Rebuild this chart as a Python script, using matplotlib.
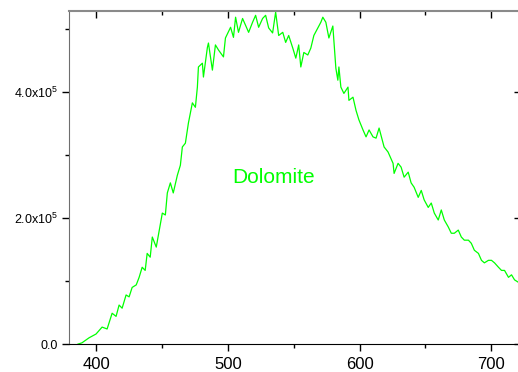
import numpy as np
import matplotlib
matplotlib.use("Agg")
import matplotlib.pyplot as plt
from matplotlib.ticker import MultipleLocator, FixedLocator

plt.rcParams['font.family'] = ['Liberation Sans', 'DejaVu Sans']
plt.rcParams['mathtext.fontset'] = 'custom'
plt.rcParams['mathtext.rm'] = 'Liberation Sans'
plt.rcParams['mathtext.it'] = 'Liberation Sans'

# spectrum (wavelength nm, intensity in 1e5)
wavelength = [386.3, 389.3, 394.7, 400.0, 404.6, 408.4, 412.2, 415.2, 417.5, 419.8,
              422.8, 425.1, 427.4, 430.5, 432.7, 435.0, 437.3, 438.8, 441.1, 442.7,
              445.7, 448.0, 450.3, 452.6, 454.1, 456.4, 458.6, 461.7, 464.0, 465.5,
              467.8, 470.1, 473.1, 475.4, 476.9, 477.7, 480.7, 481.5, 484.5, 485.3,
              488.3, 490.6, 492.9, 496.7, 498.2, 502.1, 504.3, 505.9, 508.1, 511.2,
              513.5, 515.8, 518.8, 521.1, 523.4, 526.4, 528.7, 531.0, 534.0, 536.3,
              538.6, 541.7, 543.9, 546.2, 549.3, 551.6, 553.8, 555.4, 557.7, 560.7,
              563.0, 565.3, 568.3, 570.6, 572.1, 574.4, 576.7, 579.7, 582.0, 583.5,
              584.3, 585.8, 588.1, 591.2, 591.9, 595.0, 597.3, 599.5, 602.6, 604.9,
              607.2, 610.2, 612.5, 614.8, 617.8, 618.6, 621.6, 625.4, 626.2, 629.2,
              631.5, 633.8, 636.9, 639.1, 641.4, 644.5, 646.8, 649.0, 652.1, 654.4,
              656.7, 659.7, 662.0, 664.3, 667.3, 669.6, 671.9, 674.9, 677.2, 679.5,
              682.6, 684.8, 687.1, 690.2, 692.5, 694.7, 697.8, 700.1, 702.4, 705.4,
              707.7, 710.0, 713.0, 715.3, 717.6, 720.6]
intensity = [0.00, 0.02, 0.10, 0.16, 0.27, 0.24, 0.49, 0.44, 0.62, 0.57,
             0.78, 0.75, 0.90, 0.94, 1.06, 1.22, 1.17, 1.44, 1.38, 1.70,
             1.54, 1.81, 2.08, 2.05, 2.40, 2.56, 2.40, 2.68, 2.84, 3.13,
             3.19, 3.51, 3.83, 3.76, 4.08, 4.40, 4.46, 4.24, 4.71, 4.78,
             4.35, 4.75, 4.67, 4.56, 4.86, 5.03, 4.87, 5.19, 4.95, 5.17,
             5.06, 4.95, 5.11, 5.22, 5.03, 5.17, 5.22, 5.02, 4.94, 5.27,
             4.90, 4.95, 4.79, 4.90, 4.70, 4.54, 4.75, 4.40, 4.63, 4.59,
             4.70, 4.90, 5.02, 5.11, 5.19, 5.11, 4.86, 5.05, 4.38, 4.19,
             4.40, 4.08, 3.98, 4.08, 3.87, 3.92, 3.71, 3.56, 3.40, 3.29,
             3.40, 3.29, 3.27, 3.43, 3.19, 3.13, 3.05, 2.87, 2.71, 2.87,
             2.81, 2.65, 2.73, 2.56, 2.49, 2.33, 2.44, 2.29, 2.17, 2.24,
             2.08, 1.97, 2.13, 1.97, 1.86, 1.76, 1.76, 1.81, 1.70, 1.65,
             1.65, 1.60, 1.49, 1.44, 1.33, 1.29, 1.33, 1.33, 1.29, 1.22,
             1.17, 1.17, 1.06, 1.10, 1.02, 0.98]

ytick_vals = [0, 2e5, 4e5]
ytick_labels = ['0.0', r'2.0x10$^5$', r'4.0x10$^5$']
xtick_vals = [400, 500, 600, 700]

green = '#00ff00'

fig = plt.figure(figsize=(5.18, 3.72), dpi=100)
ax = fig.add_axes([0.133, 0.075, 0.87, 0.895])

ax.plot(wavelength, np.array(intensity) * 1e5, color=green, lw=0.9)

ax.set_xlim(379.4, 721.4)
ax.set_ylim(0, 5.286e5)

ax.set_xticks(xtick_vals)
ax.xaxis.set_minor_locator(MultipleLocator(50))
ax.set_yticks(ytick_vals)
ax.set_yticklabels(ytick_labels)
ax.yaxis.set_minor_locator(FixedLocator([1e5, 3e5, 5e5]))

ax.tick_params(axis='x', which='major', direction='out', length=5, width=1,
               labelsize=12, pad=4)
ax.tick_params(axis='x', which='minor', direction='out', length=3, width=1)
ax.tick_params(axis='y', which='major', direction='out', length=5, width=1,
               labelsize=9, pad=3)
ax.tick_params(axis='y', which='minor', direction='out', length=3, width=1)

ax.spines['left'].set_color('#6e6e6e')
ax.spines['top'].set_color('#8a8a8a')
ax.spines['top'].set_linewidth(1.5)
ax.spines['bottom'].set_color('black')
ax.spines['right'].set_visible(False)

# ticks pointing inward on top and right
top = ax.secondary_xaxis('top')
top.set_xticks(xtick_vals)
top.xaxis.set_minor_locator(MultipleLocator(50))
top.tick_params(which='major', direction='in', length=5, width=1, labeltop=False)
top.tick_params(which='minor', direction='in', length=3, width=1)
top.spines['top'].set_visible(False)

right = ax.secondary_yaxis('right')
right.set_yticks(ytick_vals)
right.tick_params(which='major', direction='in', length=4, width=1, labelright=False)
right.spines['right'].set_visible(False)

ax.text(534.8, 2.65e5, 'Dolomite', color=green, fontsize=15,
        ha='center', va='center')

fig.savefig('out.png', dpi=100)
